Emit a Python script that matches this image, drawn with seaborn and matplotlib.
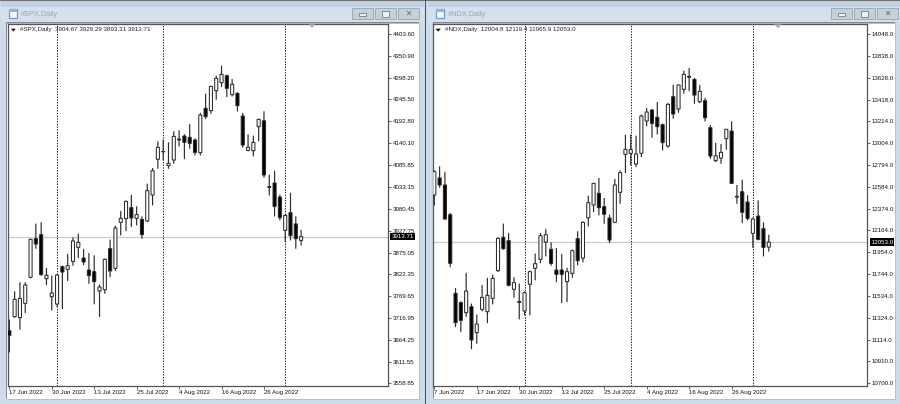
import numpy as np
import pandas as pd
import matplotlib
matplotlib.use("Agg")
import matplotlib.pyplot as plt
from matplotlib.patches import Rectangle, Polygon
from matplotlib.transforms import blended_transform_factory
import seaborn as sns

# *** #SPX daily ***
spx_open = [3686.5, 3720.4, 3718, 3752.6, 3815.4, 3908.9, 3918.6, 3812.2, 3768.7, 3751, 3841.2, 3834.8, 3854.1, 3888,
            3862.2, 3833.2, 3829.2, 3782.4, 3785.6, 3884.7, 3837.2, 3948.4, 3957.3, 3983.9, 3958, 3955.6, 3951.6, 4014.5,
            4100.7, 4119, 4085.4, 4099, 4149.8, 4157, 4153.8, 4147.4, 4116.8, 4224, 4218.3, 4266.6, 4286, 4302.9,
            4257, 4260.2, 4205.4, 4122.4, 4121.6, 4179.6, 4194, 4034.6, 4043.5, 4009.6, 3929, 3971.7, 3944.4, 3904.67]
spx_high = [3712.3, 3780.8, 3802.6, 3802.6, 3908, 3944.4, 3947.6, 3837.2, 3818.7, 3822, 3842.8, 3871, 3911.3, 3920.2,
            3883.1, 3873.4, 3867.8, 3796.9, 3860, 3905.7, 3939.5, 3975, 4000, 4013.7, 3986.3, 3962, 4041, 4078.9,
            4143.4, 4147.4, 4141, 4167.5, 4170, 4160.3, 4185.3, 4150.6, 4211.8, 4258.6, 4277.5, 4302, 4326.3, 4304.5,
            4294, 4261.8, 4211.8, 4160.3, 4157, 4198, 4215.9, 4062.8, 4072.5, 4014.4, 3966, 4018.5, 3962, 3929.29]
spx_low = [3635, 3718.8, 3689.8, 3730, 3813.8, 3885.5, 3820.3, 3797.7, 3736.5, 3744.5, 3739.7, 3807.4, 3844.4, 3863,
           3846.1, 3801, 3751, 3720.4, 3776.8, 3817, 3831.6, 3917.8, 3928.3, 3938, 3942, 3909.7, 3950, 3990.3,
           4078.9, 4099, 4078.9, 4091, 4132.9, 4102.3, 4127.2, 4111, 4111, 4199, 4211.8, 4245.7, 4276.3, 4252.1,
           4253.7, 4217.5, 4129.7, 4120.8, 4108.7, 4145.8, 4057.2, 4014.4, 3963.7, 3954, 3901.6, 3905.7, 3885.5, 3893.31]
spx_close = [3675.3, 3762.3, 3764.7, 3796.9, 3907.3, 3896, 3821.9, 3820.3, 3777.6, 3821.1, 3828.3, 3843.6, 3903.3, 3900,
             3852.6, 3819.5, 3805, 3792, 3859, 3830.8, 3934.7, 3958, 3999.2, 3958.9, 3967, 3918.6, 4025, 4073.3,
             4129.7, 4119.5, 4091, 4156.3, 4147.4, 4141.8, 4139.3, 4117.6, 4207.8, 4203.8, 4277, 4296.4, 4306, 4272.3,
             4282, 4230.4, 4135.3, 4129.7, 4141.7, 4197.3, 4062.8, 4033, 3987, 3959.7, 3965.3, 3916, 3908.9, 3913.71]
spx_ticks = [4403.60, 4350.90, 4298.20, 4245.50, 4192.80, 4140.10, 4085.85, 4033.15, 3980.45, 3927.75, 3875.05,
             3822.35, 3769.65, 3716.95, 3664.25, 3611.55, 3558.85]
spx_dates = ['17 Jun 2022', '30 Jun 2022', '13 Jul 2022', '25 Jul 2022', '4 Aug 2022', '16 Aug 2022', '26 Aug 2022']
spx_separators = [9, 29, 52]

# *** #NDX daily ***
ndx_open = [12503.7, 12666.5, 12599.4, 12315.3, 11561.7, 11472.3, 11376.5, 11434, 11185, 11408.5, 11386, 11513.8,
            11778.8, 12098.2, 12066.2, 11600, 11481.9, 11392.5, 11648, 11801.2, 11887.4, 12053.5, 11983.2, 11785.2,
            11785.2, 11673.5, 11753.3, 12085.4, 11900, 12286.5, 12407.9, 12519.6, 12391.9, 12283.3, 12241.8, 12529.2,
            12893, 12902.8, 12800.6, 12902.8, 13212.5, 13317.9, 13247.6, 13177.4, 12973, 13445.6, 13327.4, 13515.8,
            13640, 13611.3, 13397.4, 13407, 13148.3, 12832.2, 12857.8, 13043, 13116.4, 12490.5, 12535.3, 12436.3,
            12136, 12302, 12180.8, 12004.8]
ndx_high = [12736.7, 12775, 12720.8, 12328, 11609.6, 11481.9, 11753.3, 11459.5, 11354, 11638.4, 11705.4, 11737.3,
            12095, 12225.9, 12136.5, 11711.8, 11651, 11577.7, 11775.7, 11938.5, 12136.5, 12174.8, 12047, 11992.8,
            11935.3, 11801.2, 11976.8, 12152.4, 12248.2, 12494, 12615.4, 12663.3, 12471.7, 12312, 12653.7, 12736.7,
            13078.4, 13078.4, 13068.8, 13270, 13333.8, 13324.2, 13391.3, 13183.7, 13381.7, 13557.3, 13557.3, 13691.4,
            13716.7, 13620.9, 13553.8, 13429.3, 13170.7, 13000.3, 12988.7, 13132.4, 13205.8, 12596, 12647, 12497,
            12280, 12449, 12238, 12119.4]
ndx_low = [12407.8, 12577.1, 12270.6, 11817, 11242.6, 11194.5, 11338.2, 11031.7, 11082.8, 11392.5, 11280.7, 11459.5,
           11769.3, 11983.2, 11632, 11523.4, 11315.9, 11354, 11354, 11689.5, 11855.5, 11919.3, 11829.9, 11673.5,
           11472.3, 11481.9, 11715, 11833, 11861.9, 12206.7, 12344, 12312.1, 12232.3, 12047, 12238.6, 12423.8,
           12717.6, 12791, 12775, 12870.8, 13164.6, 13056, 13088, 12934.7, 12960, 13238, 13295.5, 13477.5,
           13502.8, 13381.4, 13387.8, 13212.2, 12854.6, 12822.6, 12806.7, 12940.8, 12615, 12423.5, 12238, 12264,
           12002, 12072, 11919, 11965.9]
ndx_close = [12727, 12599.4, 12273.8, 11849, 11280.7, 11303, 11584, 11114.7, 11268, 11523.4, 11542.6, 11705.4,
             12088.6, 11989.6, 11638.4, 11663.9, 11475.5, 11568, 11769.3, 11845.9, 12114.1, 12123.7, 11849, 11743.7,
             11743.7, 11769.3, 11970.4, 11874.6, 12241.8, 12430.2, 12615.4, 12382.3, 12318.5, 12072.6, 12599.4, 12717.6,
             12941, 12938, 12896.4, 13260.4, 13298.7, 13190, 13158.2, 13005, 13372, 13279.5, 13557.3, 13659.5,
             13631, 13461.2, 13496.4, 13244, 12876.9, 12880, 12912, 13132.4, 12615, 12484, 12337.3, 12279.8,
             12273.4, 12078.7, 12002, 12053.0]
ndx_ticks = [14048.0, 13838.0, 13628.0, 13418.0, 13214.0, 13004.0, 12794.0, 12584.0, 12374.0, 12164.0, 11954.0,
             11744.0, 11534.0, 11324.0, 11114.0, 10910.0, 10700.0]
ndx_dates = ['7 Jun 2022', '17 Jun 2022', '30 Jun 2022', '13 Jul 2022', '25 Jul 2022', '4 Aug 2022', '16 Aug 2022',
             '26 Aug 2022']
ndx_separators = [17, 37, 60]

W, H = 900, 404
FRAME = '#cfdcea'
INK = '#2b2b2b'
LABEL_SIZE = 4.4

sns.set_theme(style='white')
plt.rcParams['font.family'] = ['Liberation Sans', 'DejaVu Sans']

fig = plt.figure(figsize=(W / 100, H / 100), dpi=100, facecolor=FRAME)


def box(x0, y0, x1, y1, color, edge='none', lw=0.7):
    fig.add_artist(Rectangle((x0 / W, 1 - y1 / H), (x1 - x0) / W, (y1 - y0) / H, transform=fig.transFigure,
                             facecolor=color, edgecolor=edge, linewidth=lw))


def window(left, right, title, buttons_x):
    # title bar and white client area
    box(left + 1, 1, right, 7, '#c3d2e2')
    box(left + 1, 7, right, 22, '#d5e0ec')
    box(left + 6, 22.5, right - 5, 398.5, 'white', '#b4c0cc', 0.7)
    box(left + 6, 22, right - 5, 23, '#85898e')
    box(left + 6, 22, left + 7, 398, '#85898e')

    # window icon
    box(left + 9, 9.5, left + 17, 18, '#f4f8fc', '#6d9bd1', 0.9)
    box(left + 9, 9.5, left + 17, 12, '#8fb5e0')
    fig.text((left + 21) / W, 1 - 14.5 / H, title, color='#9aa4ae', fontsize=5.3, va='center', ha='left')

    # minimise, maximise, close
    for n, bx in enumerate(buttons_x):
        box(bx, 8.5, bx + 20.5, 19, '#c6d0da', '#98a3ae', 0.6)
        if n == 0:
            box(bx + 7, 13.5, bx + 14, 15.5, '#eef2f6', '#666666', 0.5)
        elif n == 1:
            box(bx + 7, 11, bx + 14, 16.5, '#eef2f6', '#666666', 0.5)
        else:
            fig.text((bx + 10.2) / W, 1 - 13.7 / H, '\u2715', color='#666666', fontsize=5.5, va='center', ha='center')


def candles(ax, o, h, l, c, ticks, tick_fmt, dates, separators, info, tri_x, text_x):
    df = pd.DataFrame({'open': o, 'high': h, 'low': l, 'close': c})
    df['idx'] = df.index

    # wicks
    wicks = df.melt(id_vars='idx', value_vars=['high', 'low'], value_name='price')
    sns.lineplot(data=wicks, x='idx', y='price', units='idx', estimator=None, color=INK, linewidth=0.85, ax=ax,
                 zorder=3)

    # bodies
    df['bottom'] = df[['open', 'close']].min(axis=1)
    df['height'] = (df['close'] - df['open']).abs()
    for is_up, color in [(True, 'white'), (False, 'black')]:
        part = df[(df['close'] >= df['open']) == is_up]
        sns.barplot(x=part['idx'].to_numpy(), y=part['height'].to_numpy(), bottom=part['bottom'].to_numpy(),
                    native_scale=True, width=0.58, color=color, saturation=1, errorbar=None, edgecolor=INK,
                    linewidth=0.75, ax=ax, zorder=4)

    # no pixel snapping, otherwise bodies drift off their wicks
    for artist in list(ax.lines) + list(ax.patches):
        artist.set_snap(False)

    # period separators and current price
    for s in separators:
        ax.axvline(s, color='#1a1a1a', linewidth=0.7, dashes=(1.4, 1.4), zorder=2)
    ax.axhline(c[-1], color='#cccccc', linewidth=0.9, zorder=1)

    ax.set_xticks(np.arange(len(dates)) * 8)
    ax.set_xticklabels(dates, ha='left')
    ax.set_yticks(ticks)
    ax.set_yticklabels([tick_fmt.format(t) for t in ticks])
    ax.yaxis.tick_right()
    ax.set_xlabel('')
    ax.set_ylabel('')
    ax.tick_params(axis='both', labelsize=LABEL_SIZE, length=2, width=0.6, color='#444444', labelcolor='#111111',
                   pad=1.5, bottom=True, right=True, left=False)
    for spine in ax.spines.values():
        spine.set_visible(True)
        spine.set_color('#555555')
        spine.set_linewidth(0.9)

    # current price box on the scale
    trans = blended_transform_factory(ax.transAxes, ax.transData)
    ax.text(1.0095, c[-1], tick_fmt.format(c[-1]), transform=trans, color='white', fontsize=LABEL_SIZE, va='center',
            ha='left', bbox=dict(facecolor='black', edgecolor='none', pad=0.9), zorder=10, clip_on=False)

    # top left info line
    ax.text(text_x, 0.9835, info, transform=ax.transAxes, color='#222222', fontsize=4.5, va='center', ha='left',
            zorder=6)
    ax.add_patch(Polygon([(tri_x - 0.006, 0.987), (tri_x + 0.006, 0.987), (tri_x, 0.979)], closed=True,
                         transform=ax.transAxes, facecolor='black', edgecolor='none', zorder=6))


box(0, 0, W, 1.2, '#6f6f6f')
window(0, 424, '#SPX,Daily', [352, 375, 398])
window(427, W, '#NDX,Daily', [831, 854, 877])
box(424.6, 0, 426.4, H, '#4d4d4d')

# axes placed at the pixel box of each chart
ax1 = fig.add_axes([8 / W, 1 - 385.5 / H, 380 / W, 361.5 / H], facecolor='none', zorder=5)
candles(ax1, spx_open, spx_high, spx_low, spx_close, spx_ticks, '{:.2f}', spx_dates, spx_separators,
        '#SPX,Daily  3904.67 3929.29 3893.31 3913.71', 0.014, 0.031)
ax1.set_xlim(-0.25, 71.38)
ax1.set_ylim(3554, 4427.8)

ax2 = fig.add_axes([433 / W, 1 - 385.5 / H, 434 / W, 361.5 / H], facecolor='none', zorder=5)
candles(ax2, ndx_open, ndx_high, ndx_low, ndx_close, ndx_ticks, '{:.1f}', ndx_dates, ndx_separators,
        '#NDX,Daily  12004.8 12119.4 11965.9 12053.0', 0.012, 0.027)
ax2.set_xlim(-0.245, 81.5)
ax2.set_ylim(10679, 14141.7)

# chart shift markers
for ax, px, left, width in [(ax1, 312, 8, 380), (ax2, 778, 433, 434)]:
    mx = (px - left) / width
    ax.add_patch(Polygon([(mx - 0.009, 0.999), (mx + 0.009, 0.999), (mx, 0.988)], closed=True, transform=ax.transAxes,
                         facecolor='#b5b5b5', edgecolor='none', zorder=6))

fig.savefig('out.png', dpi=100, facecolor=fig.get_facecolor())
